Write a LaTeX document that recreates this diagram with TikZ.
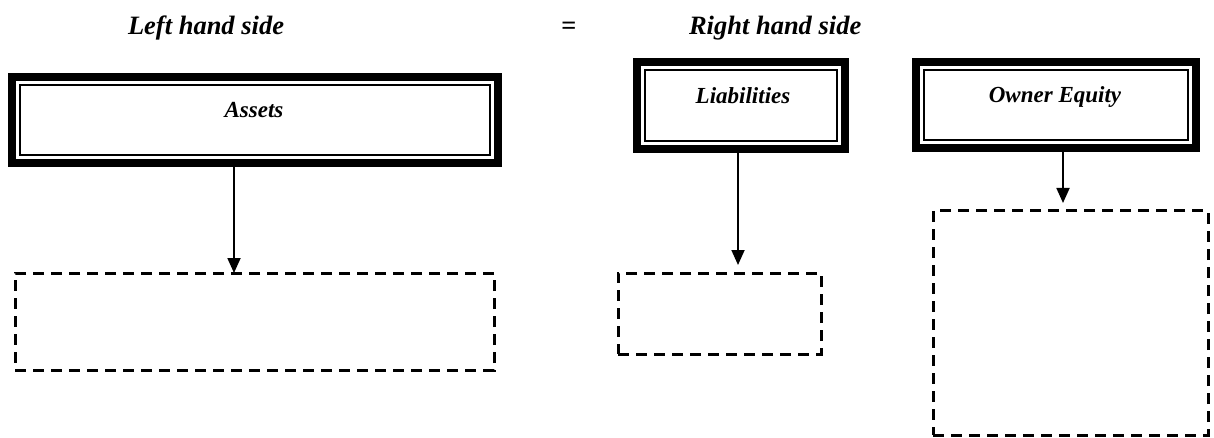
\documentclass[tikz,border=0pt]{standalone}
\usepackage{fontspec}
\setmainfont{Liberation Serif}
\usetikzlibrary{arrows.meta,calc}

\begin{document}
\begin{tikzpicture}[
  x=1pt, y=-1pt,
  every node/.style={inner sep=0pt, outer sep=0pt},
  heading/.style={anchor=base west, font=\fontsize{26.5}{30}\selectfont\bfseries\itshape},
  framebox/.style={draw=black, line width=8pt, fill=white},
  innerline/.style={draw=black, line width=2pt},
  boxlabel/.style={anchor=base, font=\fontsize{23}{27}\selectfont\bfseries\itshape},
  dashbox/.style={draw=black, line width=3pt, dash pattern=on 11pt off 7pt},
  arr/.style={draw=black, line width=1.8pt, -{Triangle[length=15pt,width=13pt]}}
]
\useasboundingbox (0,0) rectangle (1214,438);

% headings
\node[heading] (lhs) at (128,35) {Left hand side};
\node[heading] (eq)  at (561,35) {=};
\node[heading] (rhs) at (689,35) {Right hand side};

% framed account boxes
\node[framebox, minimum width=486pt, minimum height=86pt] (assets) at (255,120) {};
\node[framebox, minimum width=208pt, minimum height=87pt] (liab)   at (741,105.5) {};
\node[framebox, minimum width=280pt, minimum height=86pt] (equity) at (1056,105) {};

\foreach \b in {assets,liab,equity}{
  \draw[innerline] ($(\b.north west)+(8,8)$) rectangle ($(\b.south east)+(-8,-8)$);
}

\node[boxlabel] (assetslbl) at (254,118) {Assets};
\node[boxlabel] (liablbl)   at (743,104) {Liabilities};
\node[boxlabel] (equitylbl) at (1055,103) {Owner Equity};

% empty dashed boxes
\node[dashbox, minimum width=479pt, minimum height=97pt]  (assetsbox) at (254.5,321.5) {};
\node[dashbox, minimum width=203pt, minimum height=81pt]  (liabbox)   at (719.5,313.5) {};
\node[dashbox, minimum width=275pt, minimum height=224pt] (equitybox) at (1070.5,323) {};

% connectors
\coordinate (ax) at (234,0);
\coordinate (lx) at (738,0);
\coordinate (ex) at (1063,0);
\draw[arr] (assets.south -| ax) -- (assetsbox.north -| ax);
\draw[arr, shorten >=8pt] (liab.south -| lx) -- (liabbox.north -| lx);
\draw[arr, shorten >=8pt] (equity.south -| ex) -- (equitybox.north -| ex);
\end{tikzpicture}
\end{document}
